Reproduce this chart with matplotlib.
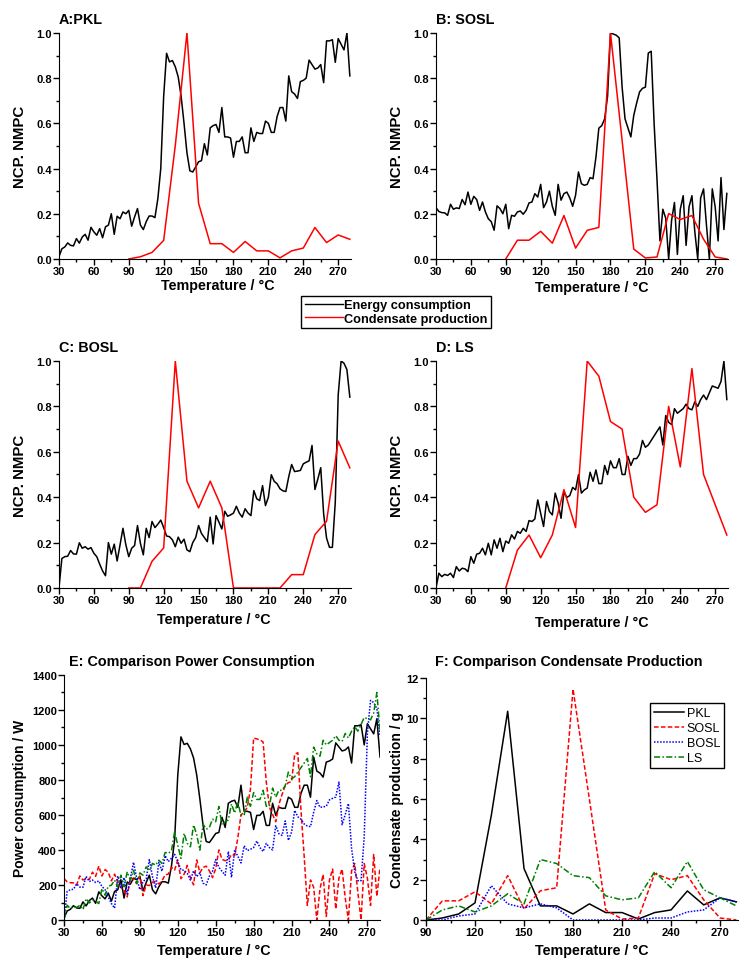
import numpy as np
import matplotlib
matplotlib.use("Agg")
import matplotlib.pyplot as plt
from matplotlib.ticker import MultipleLocator
from matplotlib.lines import Line2D

plt.rcParams['font.family'] = ['Liberation Sans', 'DejaVu Sans']
plt.rcParams['font.weight'] = 'bold'
plt.rcParams['axes.labelweight'] = 'bold'

# temperature grid of the power log, and of the condensate samples
temps = np.arange(30, 281, 2.5)
cond_temps = np.arange(90, 281, 10)

ncp_pkl = [0.01, 0.045, 0.053, 0.071, 0.06, 0.058, 0.09, 0.07, 0.097, 0.109,
           0.083, 0.14, 0.12, 0.105, 0.134, 0.094, 0.142, 0.15, 0.2, 0.109,
           0.189, 0.178, 0.208, 0.2, 0.215, 0.145, 0.186, 0.223, 0.15, 0.13,
           0.165, 0.19, 0.19, 0.183, 0.267, 0.40, 0.72, 0.91, 0.872, 0.878,
           0.85, 0.805, 0.72, 0.6, 0.47, 0.39, 0.385, 0.407, 0.43, 0.435,
           0.51, 0.46, 0.58, 0.59, 0.595, 0.56, 0.67, 0.54, 0.54, 0.535,
           0.45, 0.52, 0.52, 0.54, 0.47, 0.47, 0.58, 0.52, 0.56, 0.555,
           0.555, 0.61, 0.6, 0.56, 0.56, 0.63, 0.67, 0.67, 0.61, 0.81,
           0.74, 0.73, 0.71, 0.785, 0.79, 0.80, 0.88, 0.86, 0.84, 0.845,
           0.86, 0.78, 0.965, 0.965, 0.97, 0.87, 0.975, 0.95, 0.925, 1.0,
           0.81]
ncp_sosl = [0.227, 0.21, 0.205, 0.204, 0.193, 0.242, 0.22, 0.226, 0.223, 0.263,
            0.24, 0.296, 0.242, 0.277, 0.263, 0.215, 0.252, 0.208, 0.178, 0.165,
            0.127, 0.235, 0.223, 0.2, 0.242, 0.134, 0.193, 0.189, 0.208, 0.212,
            0.198, 0.215, 0.248, 0.252, 0.289, 0.274, 0.33, 0.227, 0.252, 0.3,
            0.233, 0.193, 0.33, 0.26, 0.289, 0.296, 0.27, 0.233, 0.282, 0.385,
            0.333, 0.326, 0.33, 0.36, 0.355, 0.45, 0.579, 0.59, 0.62, 0.72,
            1.0, 0.995, 0.99, 0.978, 0.76, 0.62, 0.58, 0.54, 0.635, 0.69,
            0.739, 0.755, 0.76, 0.911, 0.919, 0.6, 0.35, 0.08, 0.22, 0.18,
            0.0, 0.17, 0.25, 0.02, 0.22, 0.28, 0.06, 0.23, 0.28, 0.12,
            0.0, 0.27, 0.31, 0.15, 0.0, 0.31, 0.23, 0.08, 0.36, 0.13,
            0.29]
ncp_bosl = [0.0, 0.13, 0.138, 0.14, 0.165, 0.15, 0.149, 0.199, 0.175, 0.182,
            0.171, 0.178, 0.153, 0.138, 0.105, 0.075, 0.054, 0.2, 0.149, 0.193,
            0.119, 0.19, 0.263, 0.19, 0.138, 0.175, 0.187, 0.275, 0.197, 0.146,
            0.263, 0.222, 0.293, 0.266, 0.281, 0.299, 0.266, 0.229, 0.226, 0.212,
            0.182, 0.224, 0.197, 0.215, 0.168, 0.16, 0.2, 0.222, 0.275, 0.24,
            0.222, 0.204, 0.312, 0.194, 0.319, 0.29, 0.26, 0.338, 0.316, 0.322,
            0.33, 0.36, 0.33, 0.312, 0.349, 0.33, 0.319, 0.429, 0.393, 0.385,
            0.451, 0.363, 0.40, 0.499, 0.47, 0.459, 0.437, 0.428, 0.425, 0.49,
            0.544, 0.513, 0.515, 0.518, 0.547, 0.554, 0.56, 0.628, 0.434, 0.48,
            0.53, 0.326, 0.22, 0.179, 0.179, 0.378, 0.85, 1.0, 0.99, 0.962,
            0.841]
ncp_ls = [0.0, 0.065, 0.05, 0.06, 0.055, 0.065, 0.046, 0.094, 0.075, 0.087,
          0.084, 0.072, 0.138, 0.109, 0.149, 0.153, 0.175, 0.146, 0.197, 0.146,
          0.212, 0.175, 0.219, 0.16, 0.207, 0.197, 0.234, 0.216, 0.249, 0.241,
          0.263, 0.249, 0.297, 0.293, 0.304, 0.388, 0.329, 0.271, 0.381, 0.337,
          0.322, 0.418, 0.374, 0.307, 0.422, 0.399, 0.407, 0.443, 0.432, 0.499,
          0.418, 0.432, 0.44, 0.51, 0.47, 0.52, 0.46, 0.46, 0.54, 0.5,
          0.56, 0.53, 0.53, 0.57, 0.5, 0.5, 0.58, 0.54, 0.57, 0.57,
          0.59, 0.65, 0.62, 0.63, 0.65, 0.67, 0.69, 0.71, 0.63, 0.76,
          0.73, 0.72, 0.79, 0.77, 0.78, 0.79, 0.81, 0.79, 0.785, 0.82,
          0.80, 0.83, 0.85, 0.83, 0.86, 0.89, 0.885, 0.88, 0.91, 1.0,
          0.83]

# peak power (W) of each material, from panel E
peak_power = {'PKL': 1150, 'SOSL': 1040, 'BOSL': 1255, 'LS': 1300}

# condensate production (g), panel F
cond_pkl = [0.0, 0.1, 0.3, 0.85, 5.2, 10.35, 2.55, 0.7, 0.7, 0.3,
            0.8, 0.37, 0.37, 0.05, 0.37, 0.5, 1.44, 0.75, 1.1, 0.9]
cond_sosl = [0.0, 0.95, 0.95, 1.4, 0.8, 2.2, 0.55, 1.45, 1.6, 11.45,
             6.0, 0.5, 0.05, 0.1, 2.3, 2.0, 2.2, 1.0, 0.1, 0.0]
cond_bosl = [0.0, 0.0, 0.2, 0.3, 1.7, 0.8, 0.6, 0.8, 0.6, 0.0,
             0.0, 0.0, 0.0, 0.0, 0.1, 0.1, 0.4, 0.5, 1.1, 0.9]
cond_ls = [0.0, 0.5, 0.7, 0.4, 0.7, 1.3, 0.8, 3.0, 2.8, 2.2,
           2.1, 1.2, 1.0, 1.1, 2.4, 1.6, 2.9, 1.5, 1.1, 0.7]

names = ['PKL', 'SOSL', 'BOSL', 'LS']
ncp = dict(zip(names, [ncp_pkl, ncp_sosl, ncp_bosl, ncp_ls]))
cond = dict(zip(names, [cond_pkl, cond_sosl, cond_bosl, cond_ls]))
styles = {'PKL': ('black', '-'), 'SOSL': ('#ff0000', (0, (3, 1.5))),
          'BOSL': ('#0000ff', (0, (1, 1))), 'LS': ('#008000', (0, (4, 1.5, 1, 1.5)))}

fig = plt.figure(figsize=(7.54, 9.70), dpi=100)


def style_axis(ax, xmin, xmax, ymax, ymaj, ymin):
    ax.spines['top'].set_visible(False)
    ax.spines['right'].set_visible(False)
    ax.set_xlim(xmin, xmax)
    ax.set_ylim(0, ymax)
    ax.xaxis.set_major_locator(MultipleLocator(30))
    ax.xaxis.set_minor_locator(MultipleLocator(15))
    ax.yaxis.set_major_locator(MultipleLocator(ymaj))
    ax.yaxis.set_minor_locator(MultipleLocator(ymin))
    ax.tick_params(which='major', direction='out', length=4, width=1, labelsize=8, pad=1)
    ax.tick_params(which='minor', direction='out', length=2, width=1)


panels = [('A:PKL', 'PKL', [0.0782, 0.7320, 0.3873, 0.2330], (-0.134, 0.545, -0.115)),
          ('B: SOSL', 'SOSL', [0.5782, 0.7320, 0.3873, 0.2330], (-0.132, 0.534, -0.124)),
          ('C: BOSL', 'BOSL', [0.0782, 0.3928, 0.3873, 0.2340], (-0.132, 0.53, -0.137)),
          ('D: LS', 'LS', [0.5782, 0.3928, 0.3873, 0.2340], (-0.132, 0.534, -0.15))]

for title, key, rect, (ylx, xlx, xly) in panels:
    ax = fig.add_axes(rect)
    ax.plot(temps, ncp[key], color='black', lw=1.1)
    c = np.array(cond[key])
    ax.plot(cond_temps, c / c.max(), color='#ff0000', lw=1.1)
    style_axis(ax, 30, 281, 1.0, 0.2, 0.1)
    ax.set_ylabel('NCP. NMPC', fontsize=10.8)
    ax.set_xlabel('Temperature / °C', fontsize=10.3)
    ax.yaxis.set_label_coords(ylx, 0.5)
    ax.yaxis.label.set_va('center')
    ax.xaxis.set_label_coords(xlx, xly)
    ax.xaxis.label.set_va('center')
    ax.text(0.0, 1.045, title, transform=ax.transAxes, fontsize=10.4,
            fontweight='bold', ha='left', va='baseline')

fig.legend(handles=[Line2D([], [], color='black', lw=1), Line2D([], [], color='#ff0000', lw=1)],
           labels=['Energy consumption', 'Condensate production'],
           loc='center', bbox_to_anchor=(396 / 754, 1 - 313 / 970),
           frameon=True, fancybox=False, edgecolor='black', framealpha=1,
           handlelength=3.0, handletextpad=0.05, borderpad=0.3, labelspacing=0.1,
           prop={'weight': 'bold', 'size': 9.2})

# E: power consumption
axE = fig.add_axes([0.0849, 0.0505, 0.4191, 0.2526])
for key in names:
    col, ls = styles[key]
    axE.plot(temps, np.array(ncp[key]) * peak_power[key], color=col, linestyle=ls, lw=1.1)
style_axis(axE, 30, 280, 1400, 200, 100)
axE.set_ylabel('Power consumption / W', fontsize=10)
axE.set_xlabel('Temperature / °C', fontsize=10.3)
axE.yaxis.set_label_coords(-0.138, 0.5)
axE.yaxis.label.set_va('center')
axE.xaxis.set_label_coords(0.475, -0.122)
axE.xaxis.label.set_va('center')
axE.text(0.016, 1.041, 'E: Comparison Power Consumption', transform=axE.transAxes,
         fontsize=10.4, fontweight='bold', ha='left', va='baseline')

# F: condensate production
axF = fig.add_axes([0.5650, 0.0505, 0.4138, 0.2495])
for key in names:
    col, ls = styles[key]
    axF.plot(cond_temps, cond[key], color=col, linestyle=ls, lw=1.1, label=key)
style_axis(axF, 90, 281, 12, 2, 1)
axF.set_ylabel('Condensate production / g', fontsize=10)
axF.set_xlabel('Temperature / °C', fontsize=10.3)
axF.yaxis.set_label_coords(-0.093, 0.5)
axF.yaxis.label.set_va('center')
axF.xaxis.set_label_coords(0.53, -0.123)
axF.xaxis.label.set_va('center')
axF.text(0.029, 1.054, 'F: Comparison Condensate Production', transform=axF.transAxes,
         fontsize=10.4, fontweight='bold', ha='left', va='baseline')
axF.legend(loc='center', bbox_to_anchor=(0.837, 0.762), frameon=True, fancybox=False,
           edgecolor='black', framealpha=1, handlelength=2.4, handletextpad=0.2,
           borderpad=0.3, labelspacing=0.25, prop={'weight': 'normal', 'size': 9})

fig.savefig('out.png', dpi=100)
